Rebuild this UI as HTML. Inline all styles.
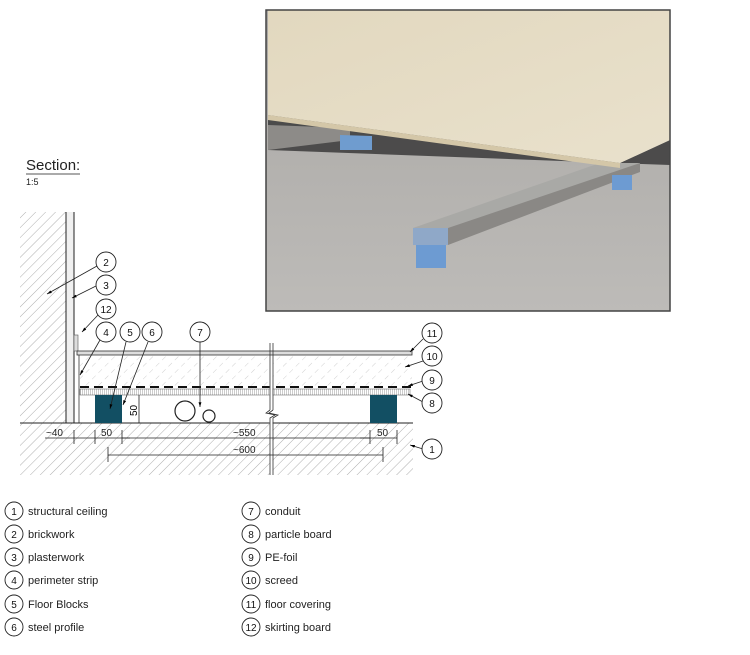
<!DOCTYPE html>
<html><head><meta charset="utf-8"><style>
body{margin:0;background:#fff;width:750px;height:650px;overflow:hidden;font-family:"Liberation Sans",Arial,sans-serif}
svg text{font-family:"Liberation Sans",Arial,sans-serif}
</style></head><body>
<svg width="750" height="650" viewBox="0 0 750 650" xmlns="http://www.w3.org/2000/svg">
<defs>
<pattern id="h" width="7" height="7" patternUnits="userSpaceOnUse" patternTransform="rotate(45)">
<line x1="0" y1="0" x2="0" y2="7" stroke="#999" stroke-width="0.8"/></pattern>
<pattern id="h2" width="9" height="9" patternUnits="userSpaceOnUse" patternTransform="rotate(45)">
<line x1="0" y1="0" x2="0" y2="5" stroke="#bbb" stroke-width="0.7"/></pattern>
<pattern id="pb" width="2" height="6" patternUnits="userSpaceOnUse"><rect width="2" height="6" fill="#fff"/><line x1="0.5" y1="0" x2="0.5" y2="6" stroke="#999" stroke-width="0.5"/></pattern>
<linearGradient id="wood" x1="0" y1="0" x2="1" y2="1"><stop offset="0" stop-color="#e2d8bf"/><stop offset="1" stop-color="#e9e1cc"/></linearGradient>
<linearGradient id="conc" x1="0" y1="0" x2="0" y2="1"><stop offset="0" stop-color="#a9a7a4"/><stop offset="1" stop-color="#bdbbb8"/></linearGradient>
<marker id="a" viewBox="0 0 10 10" refX="10" refY="5" markerWidth="6" markerHeight="6" orient="auto"><path d="M0,2 L10,5 L0,8z" fill="#000"/></marker>
</defs>

<rect x="266" y="10" width="404" height="301" fill="url(#conc)"/>
<polygon points="268,115 620,163 670,140 670,165 268,150" fill="#3a3a3a" opacity="0.85"/>
<polygon points="268,125 350,128 350,140 268,150" fill="#8d8b88"/>
<polygon points="340,135 372,136 372,150 340,150" fill="#6f9ccf"/>
<polygon points="413,228 600,163 640,163 448,243" fill="#a9a9a6"/>
<polygon points="413,228 448,228 448,245 413,245" fill="#8fa8c8"/>
<polygon points="416,245 446,245 446,268 416,268" fill="#6d9bd2"/>
<polygon points="448,228 640,163 640,172 448,245" fill="#8a8885"/>
<polygon points="612,175 632,175 632,190 612,190" fill="#6d9bd2"/>
<polygon points="268,10 670,10 670,140 620,163 268,115" fill="url(#wood)"/>
<polygon points="268,115 620,163 620,168 268,120" fill="#d4c7a8"/>
<rect x="266" y="10" width="404" height="301" fill="none" stroke="#444" stroke-width="1.5"/>

<text x="26" y="170" font-size="15" fill="#222">Section:</text>
<line x1="26" y1="174" x2="80" y2="174" stroke="#555" stroke-width="1"/>
<text x="26" y="185" font-size="9" fill="#222">1:5</text>

<rect x="20" y="212" width="46" height="211" fill="url(#h)"/>
<rect x="66" y="212" width="8" height="211" fill="#f0f0f0"/>
<line x1="66" y1="212" x2="66" y2="423" stroke="#222" stroke-width="1"/>
<line x1="74" y1="212" x2="74" y2="423" stroke="#222" stroke-width="1"/>
<rect x="74" y="335" width="4" height="16" fill="#ddd" stroke="#555" stroke-width="0.6"/>
<line x1="79" y1="355" x2="79" y2="423" stroke="#333" stroke-width="0.8"/>
<rect x="20" y="423" width="393" height="52" fill="url(#h)"/>
<line x1="20" y1="423" x2="413" y2="423" stroke="#222" stroke-width="1"/>
<rect x="80" y="355" width="332" height="31" fill="url(#h2)"/>
<line x1="80" y1="387" x2="412" y2="387" stroke="#111" stroke-width="2" stroke-dasharray="9,5"/>
<rect x="80" y="389" width="330" height="6" fill="url(#pb)" stroke="#555" stroke-width="0.5"/>
<rect x="95" y="395" width="27" height="28" fill="#124f63"/>
<rect x="370" y="395" width="27" height="28" fill="#124f63"/>
<circle cx="185" cy="411" r="10" fill="none" stroke="#222" stroke-width="1.2"/>
<circle cx="209" cy="416" r="6" fill="none" stroke="#222" stroke-width="1.2"/>
<line x1="271" y1="343" x2="271" y2="475" stroke="#fff" stroke-width="3"/>
<rect x="77" y="351" width="335" height="4" fill="#ddd" stroke="#333" stroke-width="0.8"/>
<line x1="270" y1="343" x2="270" y2="410" stroke="#333" stroke-width="0.8"/>
<line x1="273" y1="343" x2="273" y2="410" stroke="#333" stroke-width="0.8"/>
<path d="M270,410 L266,413 L275,415 L270,418 L270,475 M273,410 L269,413 L278,415 L273,418 L273,475" fill="none" stroke="#333" stroke-width="0.8"/>
<line x1="139" y1="395" x2="139" y2="423" stroke="#222" stroke-width="0.8"/>
<text x="0" y="0" font-size="10" transform="translate(137,416) rotate(-90)">50</text>
<g stroke="#222" stroke-width="0.8" fill="none">
<line x1="45" y1="438" x2="130" y2="438"/>
<line x1="74" y1="430" x2="74" y2="444"/><line x1="95" y1="430" x2="95" y2="444"/><line x1="122" y1="430" x2="122" y2="444"/>
<line x1="122" y1="438" x2="370" y2="438"/>
<line x1="360" y1="438" x2="397" y2="438"/>
<line x1="370" y1="430" x2="370" y2="444"/><line x1="397" y1="430" x2="397" y2="444"/>
<line x1="108" y1="455" x2="383" y2="455"/>
<line x1="108" y1="447" x2="108" y2="462"/><line x1="383" y1="447" x2="383" y2="462"/>
</g>
<g font-size="10" fill="#222">
<text x="46" y="436">~40</text><text x="101" y="436">50</text><text x="233" y="436">~550</text>
<text x="377" y="436">50</text><text x="233" y="453">~600</text>
</g>
<g stroke="#222" stroke-width="0.8" marker-end="url(#a)">
<line x1="97" y1="266" x2="47" y2="294"/>
<line x1="96" y1="286" x2="72" y2="298"/>
<line x1="98" y1="315" x2="82" y2="332"/>
<line x1="100" y1="340" x2="80" y2="375"/>
<line x1="126" y1="342" x2="110" y2="409"/>
<line x1="148" y1="342" x2="123" y2="405"/>
<line x1="200" y1="342" x2="200" y2="407"/>
<line x1="423" y1="339" x2="410" y2="352"/>
<line x1="423" y1="361" x2="405" y2="367"/>
<line x1="423" y1="381" x2="408" y2="386"/>
<line x1="423" y1="402" x2="408" y2="394"/>
<line x1="423" y1="449" x2="410" y2="445"/>
</g>
<g fill="#fff" stroke="#222" stroke-width="0.9">
<circle cx="106" cy="262" r="10"/><circle cx="106" cy="285" r="10"/><circle cx="106" cy="309" r="10"/>
<circle cx="106" cy="332" r="10"/><circle cx="130" cy="332" r="10"/><circle cx="152" cy="332" r="10"/>
<circle cx="200" cy="332" r="10"/><circle cx="432" cy="333" r="10"/><circle cx="432" cy="356" r="10"/>
<circle cx="432" cy="380" r="10"/><circle cx="432" cy="403" r="10"/><circle cx="432" cy="449" r="10"/>
</g>
<g font-size="10" fill="#111" text-anchor="middle">
<text x="106" y="266">2</text><text x="106" y="289">3</text><text x="106" y="313">12</text>
<text x="106" y="336">4</text><text x="130" y="336">5</text><text x="152" y="336">6</text>
<text x="200" y="336">7</text><text x="432" y="337">11</text><text x="432" y="360">10</text>
<text x="432" y="384">9</text><text x="432" y="407">8</text><text x="432" y="453">1</text>
</g>
<g fill="#fff" stroke="#222" stroke-width="0.9">
<circle cx="14" cy="511" r="9"/><circle cx="14" cy="534" r="9"/><circle cx="14" cy="557" r="9"/>
<circle cx="14" cy="580" r="9"/><circle cx="14" cy="604" r="9"/><circle cx="14" cy="627" r="9"/>
<circle cx="251" cy="511" r="9"/><circle cx="251" cy="534" r="9"/><circle cx="251" cy="557" r="9"/>
<circle cx="251" cy="580" r="9"/><circle cx="251" cy="604" r="9"/><circle cx="251" cy="627" r="9"/>
</g>
<g font-size="10" fill="#111" text-anchor="middle">
<text x="14" y="515">1</text><text x="14" y="538">2</text><text x="14" y="561">3</text>
<text x="14" y="584">4</text><text x="14" y="608">5</text><text x="14" y="631">6</text>
<text x="251" y="515">7</text><text x="251" y="538">8</text><text x="251" y="561">9</text>
<text x="251" y="584">10</text><text x="251" y="608">11</text><text x="251" y="631">12</text>
</g>
<g font-size="11" fill="#222">
<text x="28" y="515">structural ceiling</text><text x="28" y="538">brickwork</text>
<text x="28" y="561">plasterwork</text><text x="28" y="584">perimeter strip</text>
<text x="28" y="608">Floor Blocks</text><text x="28" y="631">steel profile</text>
<text x="265" y="515">conduit</text><text x="265" y="538">particle board</text>
<text x="265" y="561">PE-foil</text><text x="265" y="584">screed</text>
<text x="265" y="608">floor covering</text><text x="265" y="631">skirting board</text>
</g>
</svg>
</body></html>
